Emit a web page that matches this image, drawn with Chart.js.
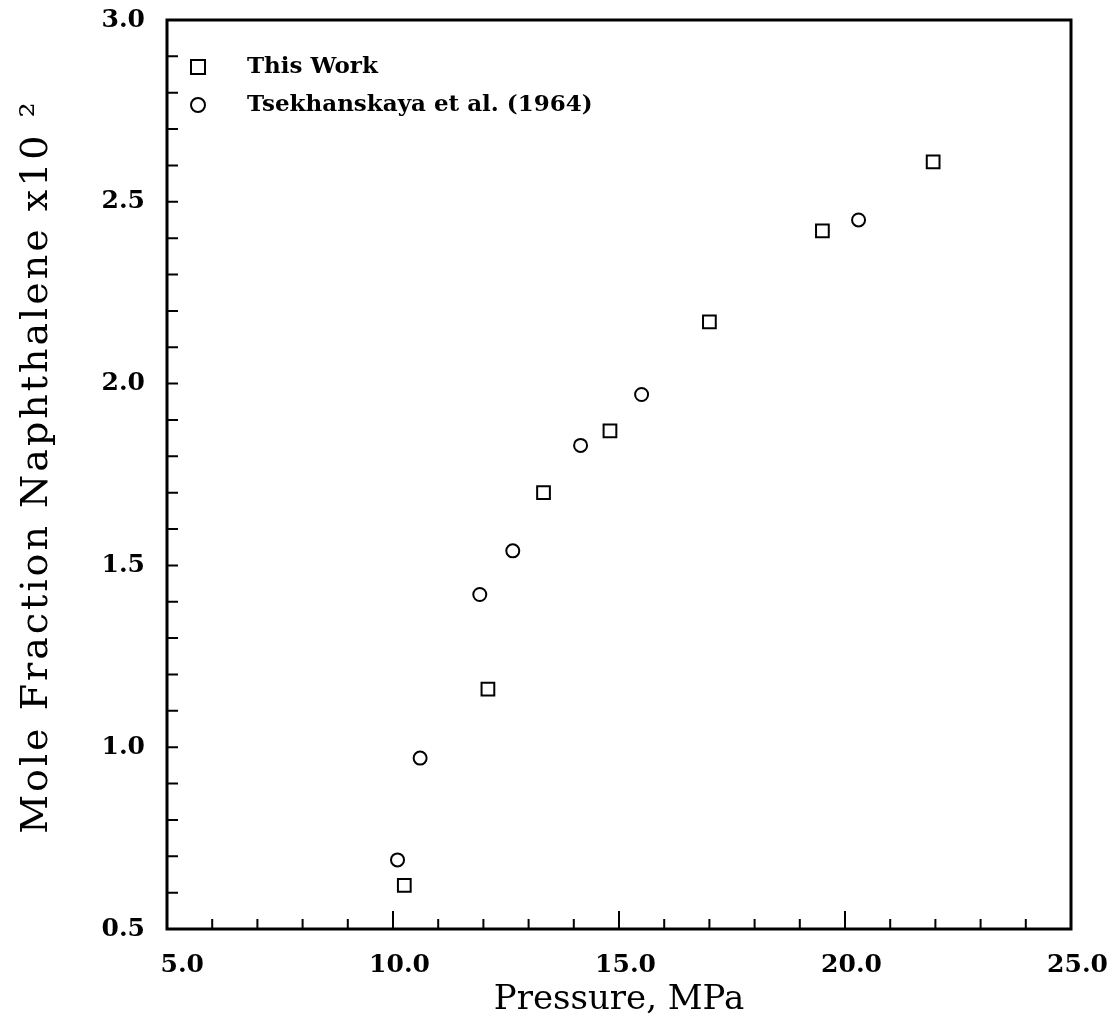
<!DOCTYPE html>
<html>
<head>
<meta charset="utf-8">
<title>Mole fraction of naphthalene vs pressure</title>
<script src="https://cdn.jsdelivr.net/npm/chart.js@4.4.0/dist/chart.umd.min.js"></script>
<style>
  html, body { margin: 0; padding: 0; background: #fff; }
</style>
</head>
<body>
<canvas id="grafico" width="1119" height="1031"></canvas>
<script>
// Pressure (MPa) and mole fraction naphthalene (x10^2)
const thisWorkP = [10.25, 12.10, 13.33, 14.80, 17.00, 19.50, 21.95];
const thisWorkY = [0.62, 1.16, 1.70, 1.87, 2.17, 2.42, 2.61];

const tsekP = [10.10, 10.60, 11.92, 12.65, 14.15, 15.50, 20.30];
const tsekY = [0.69, 0.97, 1.42, 1.54, 1.83, 1.97, 2.45];

const seriesLabels = ['This Work', 'Tsekhanskaya et al. (1964)'];
const xTitle = 'Pressure, MPa';
const yTitle = 'Mole Fraction Naphthalene x10 \u00b2';

// plot frame in canvas pixels
const FRAME = { left: 167, right: 1071, top: 20, bottom: 929 };
const tickFont = { family: 'DejaVu Serif', size: 25, weight: 'bold' };

function pts(xs, ys) {
  return xs.map((v, i) => ({ x: v, y: ys[i] }));
}

// tick marks drawn inside the box + the box itself
const innerTicks = {
  id: 'innerTicks',
  afterDatasetsDraw(chart) {
    const { ctx, chartArea: a, scales: { x, y } } = chart;
    ctx.save();
    ctx.strokeStyle = '#000';
    ctx.lineWidth = 2;
    ctx.beginPath();
    for (let p = x.min + 1; p < x.max; p++) {
      const px = x.getPixelForValue(p);
      const len = p % 5 === 0 ? 18 : 10;
      ctx.moveTo(px, a.bottom);
      ctx.lineTo(px, a.bottom - len);
    }
    for (let i = 1; i < 25; i++) {
      const py = y.getPixelForValue(y.min + i * 0.1);
      ctx.moveTo(a.left, py);
      ctx.lineTo(a.left + 11, py);
    }
    ctx.stroke();
    ctx.lineWidth = 3;
    ctx.strokeRect(a.left, a.top, a.right - a.left, a.bottom - a.top);
    ctx.restore();
  }
};

// legend in the upper left corner of the box
const legendBox = {
  id: 'legendBox',
  afterDraw(chart) {
    const { ctx, chartArea: a } = chart;
    ctx.save();
    ctx.font = 'bold 23px "DejaVu Serif"';
    ctx.textBaseline = 'middle';
    ctx.fillStyle = '#000';
    ctx.strokeStyle = '#000';
    ctx.lineWidth = 2;
    chart.data.datasets.forEach((ds, i) => {
      const cx = a.left + 31;
      const cy = a.top + 47 + i * 38;
      if (ds.pointStyle === 'rect') {
        ctx.strokeRect(cx - 7, cy - 7, 14, 14);
      } else {
        ctx.beginPath();
        ctx.arc(cx, cy, 7, 0, Math.PI * 2);
        ctx.stroke();
      }
      ctx.fillText(ds.label, a.left + 80, cy);
    });
    ctx.restore();
  }
};

// rotated y title, a bit wider spaced than the x title
const yTitleDraw = {
  id: 'yTitleDraw',
  afterDraw(chart) {
    const { ctx, chartArea: a } = chart;
    ctx.save();
    ctx.translate(37, (a.top + a.bottom) / 2 - 8);
    ctx.rotate(-Math.PI / 2);
    ctx.font = '38px "DejaVu Serif"';
    ctx.letterSpacing = '3px';
    ctx.textAlign = 'center';
    ctx.textBaseline = 'middle';
    ctx.fillStyle = '#000';
    ctx.fillText(yTitle, 0, 0);
    ctx.restore();
  }
};

new Chart(document.getElementById('grafico'), {
  type: 'scatter',
  data: {
    datasets: [{
      label: seriesLabels[0],
      data: pts(thisWorkP, thisWorkY),
      pointStyle: 'rect',
      pointRadius: 9,
      pointBorderWidth: 2,
      pointBorderColor: '#000',
      pointBackgroundColor: 'rgba(0,0,0,0)'
    }, {
      label: seriesLabels[1],
      data: pts(tsekP, tsekY),
      pointStyle: 'circle',
      pointRadius: 6.5,
      pointBorderWidth: 2,
      pointBorderColor: '#000',
      pointBackgroundColor: 'rgba(0,0,0,0)'
    }]
  },
  options: {
    responsive: false,
    animation: false,
    layout: { padding: { top: FRAME.top, right: 1119 - FRAME.right, left: 0, bottom: 0 } },
    plugins: { legend: { display: false }, tooltip: { enabled: false } },
    scales: {
      x: {
        type: 'linear', min: 5, max: 25,
        grid: { display: false, drawTicks: false },
        border: { display: false },
        ticks: {
          stepSize: 5, align: 'end', labelOffset: 37, padding: 21,
          autoSkip: false, maxRotation: 0, color: '#000', font: tickFont,
          callback: v => v.toFixed(1)
        },
        title: {
          display: true, text: xTitle, color: '#000',
          font: { family: 'DejaVu Serif', size: 34, lineHeight: 1 },
          padding: { top: 0, bottom: 14 }
        },
        afterFit: s => { s.height = 1031 - FRAME.bottom; }
      },
      y: {
        type: 'linear', min: 0.5, max: 3.0,
        grid: { display: false, drawTicks: false },
        border: { display: false },
        ticks: {
          stepSize: 0.5, padding: 22, color: '#000', font: tickFont,
          callback: v => v.toFixed(1)
        },
        afterFit: s => {
          s.width = FRAME.left;
          // labels may hang over the frame ends
          s.paddingTop = 0;
          s.paddingBottom = 0;
        }
      }
    }
  },
  plugins: [innerTicks, legendBox, yTitleDraw]
});
</script>
</body>
</html>
